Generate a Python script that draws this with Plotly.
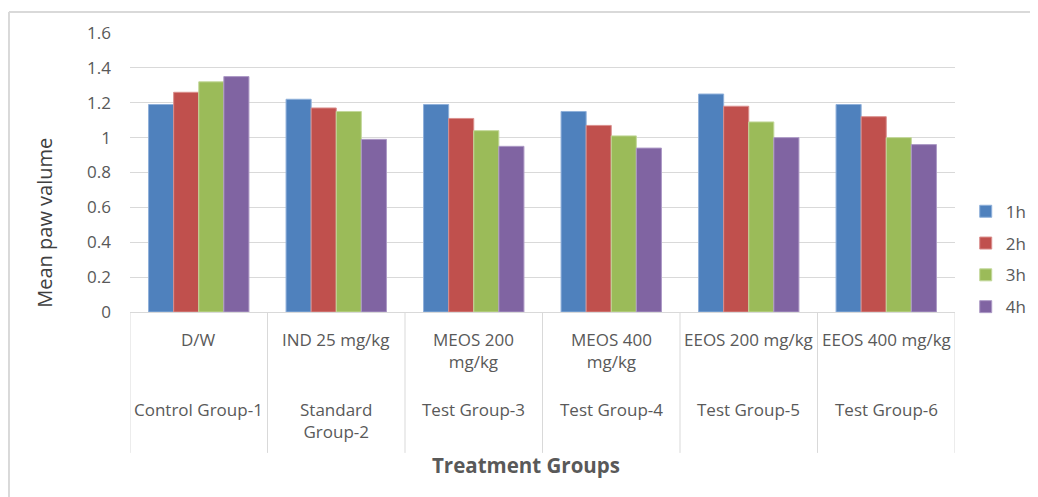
import plotly.graph_objects as go

doses = ["D/W", "IND 25 mg/kg", "MEOS 200<br>mg/kg", "MEOS 400<br>mg/kg", "EEOS 200 mg/kg", "EEOS 400 mg/kg"]
groups = ["Control Group-1", "Standard<br>Group-2", "Test Group-3", "Test Group-4", "Test Group-5", "Test Group-6"]
series_names = ["1h", "2h", "3h", "4h"]
h1 = [1.19, 1.22, 1.19, 1.15, 1.25, 1.19]
h2 = [1.26, 1.17, 1.11, 1.07, 1.18, 1.12]
h3 = [1.32, 1.15, 1.04, 1.01, 1.09, 1.00]
h4 = [1.35, 0.99, 0.95, 0.94, 1.00, 0.96]
y_ticks = [0, 0.2, 0.4, 0.6, 0.8, 1.0, 1.2, 1.4, 1.6]
y_ticklabels = ["0", "0.2", "0.4", "0.6", "0.8", "1", "1.2", "1.4", "1.6"]

colors = ["#4F81BD", "#C0504D", "#9BBB59", "#8064A2"]
edge = ["#8FB0DA", "#DA8F8D", "#C3D89A", "#AD9AC6"]
FONT = "Open Sans"

x_keys = list(range(len(doses)))
fig = go.Figure()
for name, vals, c, e in zip(series_names, [h1, h2, h3, h4], colors, edge):
    fig.add_trace(go.Bar(x=x_keys, y=vals, name=name, legendgroup=name,
                         marker=dict(color=c, line=dict(color=e, width=1))))

annotations = []
for i, (d, g) in enumerate(zip(doses, groups)):
    annotations.append(dict(x=i, y=-0.05, xref="x", yref="paper", text=d, showarrow=False,
                            yanchor="top", xanchor="center",
                            font=dict(family=FONT, size=17, color="#595959")))
    annotations.append(dict(x=i, y=-0.30, xref="x", yref="paper", text=g, showarrow=False,
                            yanchor="top", xanchor="center",
                            font=dict(family=FONT, size=17, color="#595959")))

annotations.append(dict(x=-0.103, y=0.32, xref="paper", yref="paper", text="Mean paw valume",
                        textangle=-90, showarrow=False, xanchor="center", yanchor="middle",
                        font=dict(family=FONT, size=20, color="#404040")))
annotations.append(dict(x=0.48, y=-0.548, xref="paper", yref="paper", text="<b>Treatment Groups</b>",
                        showarrow=False, xanchor="center", yanchor="middle",
                        font=dict(family=FONT, size=20.5, color="#595959")))

shapes = []
for b in [i - 0.5 for i in range(len(doses) + 1)]:
    shapes.append(dict(type="line", xref="x", yref="paper", x0=b, x1=b, y0=0, y1=-0.505,
                       line=dict(color="#D9D9D9", width=1)))
# outer chart border (top and left edges visible)
shapes.append(dict(type="line", xref="paper", yref="paper", x0=-0.1467, x1=1.3, y0=1.0753, y1=1.0753,
                   line=dict(color="#D9D9D9", width=2)))
shapes.append(dict(type="line", xref="paper", yref="paper", x0=-0.1467, x1=-0.1467, y0=1.0753, y1=-0.8,
                   line=dict(color="#D9D9D9", width=2)))

fig.update_layout(
    width=1038, height=497,
    margin=dict(l=122, r=91, t=25, b=193),
    paper_bgcolor="white", plot_bgcolor="white",
    barmode="group", bargap=0.27, bargroupgap=0,
    font=dict(family=FONT, color="#595959"),
    xaxis=dict(range=[-0.5, len(doses) - 0.5], showticklabels=False, showgrid=False,
               showline=True, linecolor="#D9D9D9", linewidth=1, zeroline=False, ticks=""),
    yaxis=dict(range=[0, 1.6], tickvals=y_ticks, ticktext=y_ticklabels, showgrid=True,
               gridcolor="#D9D9D9", gridwidth=1, zeroline=False, showline=False,
               ticks="", ticklabelstandoff=18, tickfont=dict(family=FONT, size=17, color="#595959")),
    legend=dict(x=1.013, y=0.424, xanchor="left", yanchor="top", tracegroupgap=6.7,
                font=dict(family=FONT, size=17, color="#595959"), bgcolor="rgba(0,0,0,0)"),
    annotations=annotations, shapes=shapes,
)

fig.write_html("out.html")
